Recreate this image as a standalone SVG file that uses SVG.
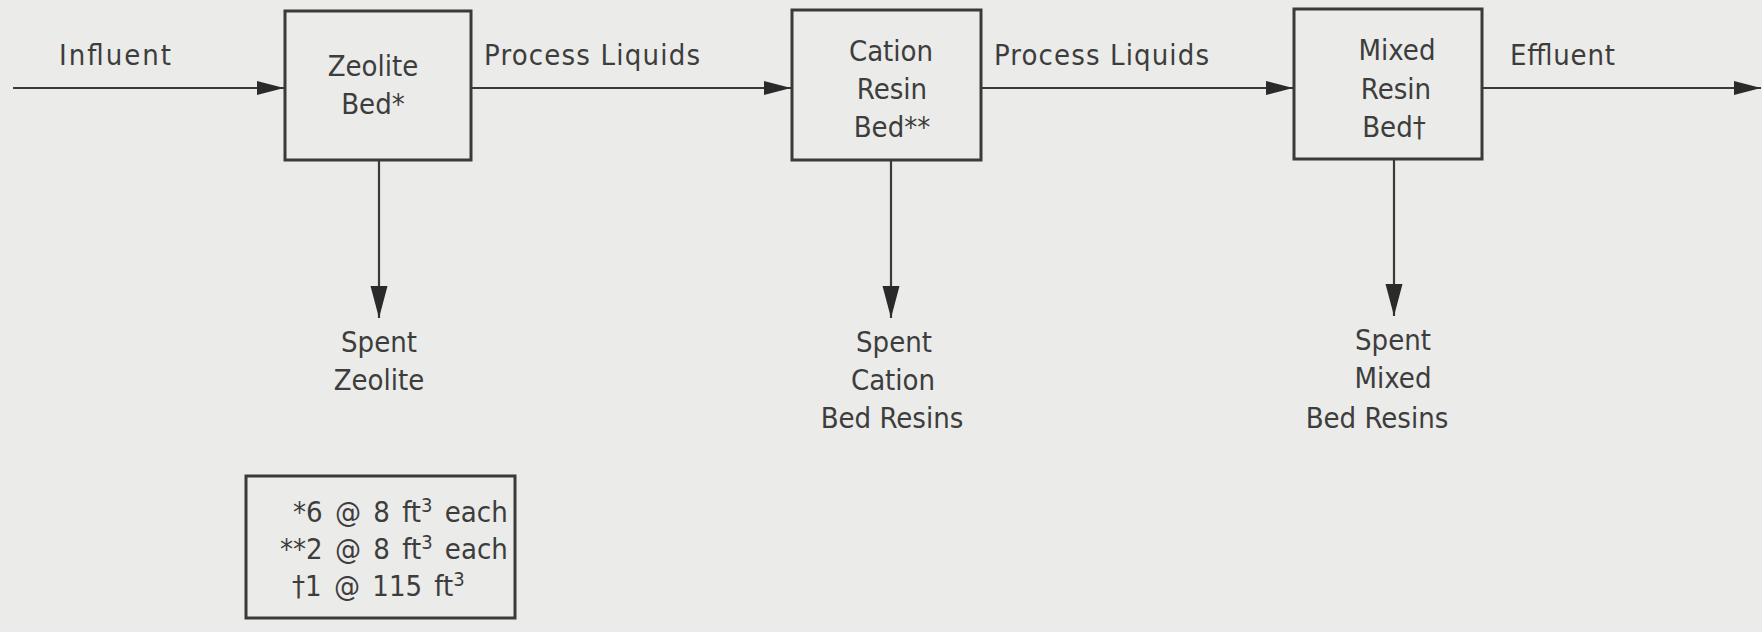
<svg xmlns="http://www.w3.org/2000/svg" width="1762" height="632" viewBox="0 0 1762 632">
<defs>
<style>
.t{font-family:"DejaVu Sans Condensed","DejaVu Sans",sans-serif;font-stretch:condensed;font-size:29px;fill:#3d3d3d}
.c{text-anchor:middle}
.box{fill:none;stroke:#3a3a3a;stroke-width:3}
.ln{fill:none;stroke:#3a3a3a;stroke-width:2.2}
.sup{font-size:20px}
</style>
<marker id="ah" markerUnits="userSpaceOnUse" markerWidth="28" markerHeight="16" refX="27" refY="7" orient="auto"><path d="M0,0 L27,7 L0,14 Z" fill="#2a2a2a"/></marker>
<marker id="av" markerUnits="userSpaceOnUse" markerWidth="33" markerHeight="18" refX="32" refY="8.5" orient="auto"><path d="M0,0 L32,8.5 L0,17 Z" fill="#2a2a2a"/></marker>
</defs>
<rect width="1762" height="632" fill="#ebebe9"/>
<g id="connectors">
<path class="ln" d="M13,88 H284" marker-end="url(#ah)"/>
<path class="ln" d="M471,88 H791" marker-end="url(#ah)"/>
<path class="ln" d="M981,88 H1293" marker-end="url(#ah)"/>
<path class="ln" d="M1482,88 H1761" marker-end="url(#ah)"/>
<path class="ln" d="M379,160 V318" marker-end="url(#av)"/>
<path class="ln" d="M891,160 V318" marker-end="url(#av)"/>
<path class="ln" d="M1394,159 V316" marker-end="url(#av)"/>
<text class="t" x="59" y="65" textLength="112">Influent</text>
<text class="t" x="484" y="65" textLength="216">Process Liquids</text>
<text class="t" x="994" y="65" textLength="215">Process Liquids</text>
<text class="t" x="1510" y="65" textLength="105">Effluent</text>
</g>
<g id="zeolite">
<rect class="box" x="285" y="11" width="186" height="149"/>
<text class="t c" x="373" y="76">Zeolite</text>
<text class="t c" x="373" y="114">Bed*</text>
</g>
<g id="cation">
<rect class="box" x="792" y="10" width="189" height="150"/>
<text class="t c" x="891" y="61">Cation</text>
<text class="t c" x="892" y="99">Resin</text>
<text class="t c" x="892" y="137">Bed**</text>
</g>
<g id="mixed">
<rect class="box" x="1294" y="9" width="188" height="150"/>
<text class="t c" x="1397" y="60">Mixed</text>
<text class="t c" x="1396" y="99">Resin</text>
<text class="t c" x="1394" y="137">Bed†</text>
</g>
<g id="spent-zeolite">
<text class="t c" x="379" y="352">Spent</text>
<text class="t c" x="379" y="390">Zeolite</text>
</g>
<g id="spent-cation">
<text class="t c" x="894" y="352">Spent</text>
<text class="t c" x="893" y="390">Cation</text>
<text class="t c" x="892" y="428">Bed Resins</text>
</g>
<g id="spent-mixed">
<text class="t c" x="1393" y="350">Spent</text>
<text class="t c" x="1393" y="388">Mixed</text>
<text class="t c" x="1377" y="428">Bed Resins</text>
</g>
<g id="footnote">
<rect class="box" x="246" y="476" width="269" height="142"/>
<text class="t" x="293" y="522" word-spacing="4">*6 @ 8 ft<tspan class="sup" dy="-10">3</tspan><tspan dy="10"> each</tspan></text>
<text class="t" x="280" y="559" word-spacing="4">**2 @ 8 ft<tspan class="sup" dy="-10">3</tspan><tspan dy="10"> each</tspan></text>
<text class="t" x="292" y="596" word-spacing="4">†1 @ 115 ft<tspan class="sup" dy="-10">3</tspan></text>
</g>
</svg>
